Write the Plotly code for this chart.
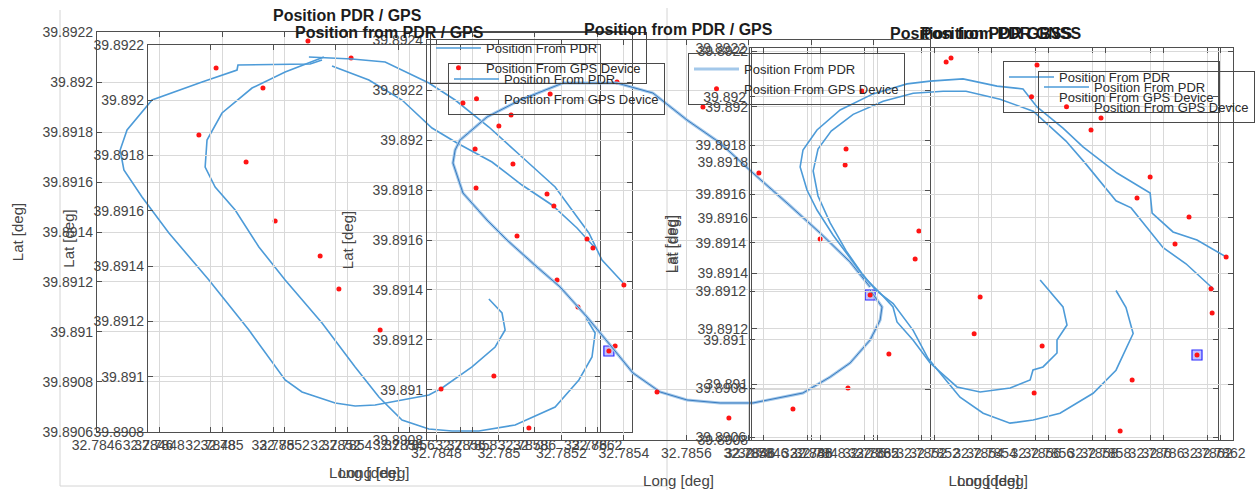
import plotly.graph_objects as go

W, H = 1255, 490
FONT = "Liberation Sans, Arial, Helvetica, sans-serif"
BLUE = "#4d9bd8"
BLUE_CORE = "#3a7cc0"
BLUE_HALO = "#a3c8ea"
RED = "#ff1414"
GRID = "#d9d9d9"
FRAME = "#4f4f4f"
TICK = "#454545"

# ---------------------------------------------------------------- tick labels
LAT_TICKS = ["39.8906", "39.8908", "39.891", "39.8912", "39.8914",
             "39.8916", "39.8918", "39.892", "39.8922", "39.8924"]
LON_TICKS = ["32.7846", "32.7848", "32.785", "32.7852", "32.7854",
             "32.7856", "32.7858", "32.786", "32.7862", "32.7864"]

# ---------------------------------------------------------------- PDR tracks
# walk 1, outer loop
pdr1_lon = [32.785320, 32.785282, 32.785051, 32.785048, 32.784936, 32.784776, 32.784696,
            32.784674, 32.784686, 32.784744, 32.784830, 32.784958, 32.785086, 32.785202,
            32.785256, 32.785362, 32.785426, 32.785490, 32.785662, 32.785704, 32.785800,
            32.785874, 32.785906, 32.785896, 32.785854]
pdr1_lat = [39.892088, 39.892072, 39.892068, 39.892048, 39.892000, 39.891928, 39.891808,
            39.891728, 39.891648, 39.891540, 39.891396, 39.891208, 39.891008, 39.890808,
            39.890760, 39.890716, 39.890704, 39.890708, 39.890748, 39.890776, 39.890860,
            39.890940, 39.891008, 39.891076, 39.891132]

# walk 1, inner loop
pdr2_lon = [32.785326, 32.785202, 32.785096, 32.785000, 32.784952, 32.784946, 32.784978,
            32.785042, 32.785118, 32.785202, 32.785320, 32.785426, 32.785502, 32.785576,
            32.785662, 32.785736, 32.785822, 32.785938, 32.786066, 32.786142, 32.786184,
            32.786194, 32.786165]
pdr2_lat = [39.892100, 39.892040, 39.891976, 39.891876, 39.891768, 39.891660, 39.891580,
            39.891488, 39.891340, 39.891208, 39.891036, 39.890860, 39.890740, 39.890648,
            39.890612, 39.890604, 39.890604, 39.890628, 39.890700, 39.890808, 39.890900,
            39.890996, 39.891056]

# walk 1, return legs
ret_a_lon = [32.785278, 32.785416, 32.785522, 32.785662, 32.785746, 32.785854, 32.785960,
             32.786066, 32.786174, 32.786216, 32.786290]
ret_a_lat = [39.892100, 39.892092, 39.892080, 39.891996, 39.891928, 39.891820, 39.891700,
             39.891580, 39.891396, 39.891288, 39.891188]
ret_b_lon = [32.785352, 32.785470, 32.785576, 32.785672, 32.785752, 32.785864, 32.785960,
             32.786056, 32.786136, 32.786194]
ret_b_lat = [39.892064, 39.892008, 39.891928, 39.891816, 39.891756, 39.891680, 39.891588,
             39.891508, 39.891416, 39.891336]

# walk 2, closed loop
pdr3_lon = [32.786188, 32.786226, 32.786220, 32.786188, 32.786124, 32.786060, 32.785973,
            32.785813, 32.785708, 32.785602, 32.785516, 32.785429, 32.785356, 32.785282,
            32.785196, 32.785122, 32.785026, 32.784962, 32.784885, 32.784853, 32.784860,
            32.784876, 32.784962, 32.785068, 32.785205, 32.785378, 32.785493, 32.785602,
            32.785708, 32.785813, 32.785922, 32.786028, 32.786124, 32.786188]
pdr3_lat = [39.891400, 39.891332, 39.891280, 39.891200, 39.891108, 39.891052, 39.890988,
            39.890948, 39.890948, 39.890960, 39.890992, 39.891068, 39.891180, 39.891292,
            39.891412, 39.891492, 39.891600, 39.891680, 39.891788, 39.891908, 39.891960,
            39.892000, 39.892092, 39.892160, 39.892228, 39.892228, 39.892188, 39.892080,
            39.891988, 39.891868, 39.891748, 39.891628, 39.891512, 39.891412]

# walk 3, first run
pdr4_lon = [32.785570, 32.785650, 32.785664, 32.785629, 32.785629, 32.785580, 32.785545,
            32.785535, 32.785465, 32.785360, 32.785279, 32.785185, 32.785125, 32.785069,
            32.785055, 32.785010, 32.784957, 32.784905, 32.784845, 32.784789, 32.784754,
            32.784730, 32.784740, 32.784789, 32.784870, 32.784985, 32.785104, 32.785185,
            32.785300, 32.785419, 32.785510, 32.785559, 32.785650, 32.785720, 32.785839,
            32.785955, 32.785962, 32.786035, 32.786119, 32.786221]
pdr4_lat = [39.891376, 39.891279, 39.891214, 39.891160, 39.891113, 39.891063, 39.891052,
            39.891016, 39.890987, 39.890973, 39.890991, 39.891077, 39.891160, 39.891225,
            39.891279, 39.891329, 39.891383, 39.891455, 39.891538, 39.891628, 39.891700,
            39.891783, 39.891844, 39.891916, 39.891988, 39.892046, 39.892082, 39.892092,
            39.892100, 39.892074, 39.892064, 39.891999, 39.891923, 39.891855, 39.891761,
            39.891689, 39.891617, 39.891549, 39.891520, 39.891459]

# walk 3, second run
pdr5_lon = [32.785881, 32.785916, 32.785941, 32.785881, 32.785801, 32.785685, 32.785591,
            32.785510, 32.785416, 32.785335, 32.785286, 32.785223, 32.785171, 32.785101,
            32.785041, 32.784989, 32.784936, 32.784880, 32.784838, 32.784821, 32.784838,
            32.784884, 32.784961, 32.785066, 32.785171, 32.785276, 32.785356, 32.785475,
            32.785591, 32.785706, 32.785776, 32.785825, 32.785881, 32.785934, 32.786046,
            32.786126, 32.786224]
pdr5_lat = [39.891203, 39.891133, 39.891026, 39.890875, 39.890780, 39.890698, 39.890670,
            39.890657, 39.890698, 39.890764, 39.890834, 39.890924, 39.891039, 39.891149,
            39.891203, 39.891277, 39.891367, 39.891482, 39.891592, 39.891695, 39.891785,
            39.891859, 39.891928, 39.891982, 39.892015, 39.892023, 39.892023, 39.891990,
            39.891941, 39.891818, 39.891723, 39.891654, 39.891572, 39.891543, 39.891379,
            39.891313, 39.891207]

# ---------------------------------------------------------------- GPS fixes
gps1_lon = [32.784981, 32.785131, 32.784926, 32.785077, 32.785170, 32.785275, 32.785413,
            32.785314, 32.785374, 32.785506]
gps1_lat = [39.892056, 39.891976, 39.891788, 39.891680, 39.891444, 39.892164, 39.892096,
            39.891304, 39.891172, 39.891008]

gps2_lon = [32.784885, 32.785039, 32.785000, 32.784924, 32.785045, 32.784927, 32.785154,
            32.785176, 32.785058, 32.785282, 32.785301, 32.785378, 32.785164, 32.785400,
            32.785186, 32.785253, 32.785372, 32.785352, 32.784984, 32.784815, 32.785096]
gps2_lat = [39.892148, 39.892100, 39.892056, 39.891964, 39.891904, 39.891808, 39.891784,
            39.891736, 39.891616, 39.891604, 39.891568, 39.892232, 39.892184, 39.891420,
            39.891440, 39.891332, 39.891176, 39.891156, 39.891056, 39.891004, 39.890848]

gps3_lon = [32.785506, 32.785736, 32.785941, 32.786162, 32.785653, 32.785832, 32.786111,
            32.786108, 32.786028, 32.786344, 32.786332, 32.786188, 32.786248, 32.786117]
gps3_lat = [39.890992, 39.890888, 39.890924, 39.892196, 39.892132, 39.891868, 39.891964,
            39.891900, 39.891604, 39.891636, 39.891524, 39.891380, 39.891144, 39.891008]

gps4_lon = [32.785241, 32.785258, 32.785559, 32.785748, 32.785783, 32.785955, 32.785909,
            32.786091, 32.786042, 32.786221]
gps4_lat = [39.892161, 39.892175, 39.892150, 39.891916, 39.891959, 39.891747, 39.891671,
            39.891603, 39.891506, 39.891459]

gps5_lon = [32.786168, 32.786172, 32.786119, 32.785892, 32.785850, 32.785360, 32.785339,
            32.785577, 32.785549]
gps5_lat = [39.891344, 39.891257, 39.891106, 39.891016, 39.890832, 39.891315, 39.891182,
            39.891138, 39.890969]

# start points of the walks
start3_lon = [32.785352, 32.786188]
start3_lat = [39.891156, 39.891380]
start5_lon = [32.786119]
start5_lat = [39.891106]

# ---------------------------------------------------------------- panels
# suffix, pixel box (left, top, right, bottom), lon range, lat range
PANELS = [
    ("",  (97, 32, 632, 432),   [32.7845999, 32.786312], [39.8905999, 39.8922001]),
    ("2", (148, 45, 600, 432),  [32.7845999, 32.7860464], [39.8907999, 39.8922001]),
    ("3", (427, 40, 930, 440),  [32.78477, 32.7863796], [39.8907999, 39.8924001]),
    ("4", (750, 48, 1218, 440), [32.7845999, 32.786238], [39.8905877, 39.892201]),
    ("5", (752, 48, 1233, 440), [32.7845615, 32.786245], [39.8907999, 39.8922112]),
]


def axis_common(ticks):
    return dict(
        tickvals=[float(t) for t in ticks], ticktext=ticks,
        showgrid=True, gridcolor=GRID, gridwidth=1, zeroline=False,
        showline=True, mirror="ticks", linecolor=FRAME, linewidth=1.3,
        ticks="inside", ticklen=5, tickcolor=FRAME, tickwidth=1,
        tickfont=dict(family=FONT, size=14, color=TICK),
        automargin=False, fixedrange=True,
    )


fig = go.Figure()
axes = {}
for sfx, (l, t, r, b), xr, yr in PANELS:
    axes["xaxis" + sfx] = dict(
        domain=[l / W, r / W], anchor="y" + sfx, range=xr,
        title=dict(text="Long [deg]", font=dict(family=FONT, size=15, color=TICK)),
        **axis_common(LON_TICKS))
    axes["yaxis" + sfx] = dict(
        domain=[1 - b / H, 1 - t / H], anchor="x" + sfx, range=yr,
        title=dict(text="Lat [deg]", font=dict(family=FONT, size=15, color=TICK)),
        **axis_common(LAT_TICKS))
fig.update_layout(**axes)


def ax(sfx):
    return dict(xaxis="x" + sfx, yaxis="y" + sfx)


def pdr(lon, lat, sfx, legend=None, color=BLUE, width=1.6):
    fig.add_trace(go.Scatter(
        x=lon, y=lat, mode="lines", line=dict(color=color, width=width),
        name="Position From PDR", legend=legend or "legend",
        showlegend=legend is not None, hoverinfo="skip", **ax(sfx)))


def gps(lon, lat, sfx, legend):
    fig.add_trace(go.Scatter(
        x=lon, y=lat, mode="markers",
        marker=dict(color=RED, size=5, symbol="circle"),
        name="Position From GPS Device", legend=legend,
        hoverinfo="skip", **ax(sfx)))


def start(lon, lat, sfx):
    fig.add_trace(go.Scatter(
        x=lon, y=lat, mode="markers", showlegend=False, hoverinfo="skip",
        marker=dict(symbol="square", size=10, color="rgba(120,120,255,0.45)",
                    line=dict(color="#2a2aff", width=1.2)), **ax(sfx)))


# second axes of the first walk carry no series of their own
fig.add_trace(go.Scatter(x=[], y=[], mode="lines", showlegend=False,
                         hoverinfo="skip", **ax("2")))

# walk 1
pdr(pdr1_lon, pdr1_lat, "", "legend")
gps(gps1_lon, gps1_lat, "", "legend")
pdr(pdr2_lon, pdr2_lat, "", "legend2")
pdr(ret_a_lon, ret_a_lat, "")
pdr(ret_b_lon, ret_b_lat, "")

# walk 2
start(start3_lon, start3_lat, "3")
gps(gps2_lon, gps2_lat, "3", "legend2")
pdr(pdr3_lon, pdr3_lat, "3", "legend3", color=BLUE_HALO, width=3)
pdr(pdr3_lon, pdr3_lat, "3", color=BLUE_CORE, width=1)
gps(gps3_lon, gps3_lat, "3", "legend3")

# walk 3
start(start5_lon, start5_lat, "5")
pdr(pdr4_lon, pdr4_lat, "5", "legend4")
gps(gps4_lon, gps4_lat, "5", "legend4")
pdr(pdr5_lon, pdr5_lat, "4", "legend5")
gps(gps5_lon, gps5_lat, "5", "legend5")


def legend_box(px, py):
    return dict(
        x=px / W, y=1 - py / H, xanchor="left", yanchor="top",
        bgcolor="rgba(255,255,255,0)", bordercolor="#4a4a4a", borderwidth=1,
        font=dict(family=FONT, size=13, color="#2b2b2b"),
        itemwidth=45, tracegroupgap=0)


fig.update_layout(
    legend=legend_box(430, 32),
    legend2=legend_box(448, 63),
    legend3=legend_box(688, 53),
    legend4=legend_box(1003, 61),
    legend5=legend_box(1038, 71),
)

# panel titles
TITLES = [
    ("Position PDR / GPS", 347, 16),
    ("Position from PDR / GPS", 389, 32),
    ("Position from PDR / GPS", 678, 29),
    ("Position from PDR GNSS", 985, 34),
    ("Position PDR GBSS", 996, 34),
]
for text, px, py in TITLES:
    fig.add_annotation(
        text="<b>%s</b>" % text, x=px / W, y=1 - py / H, xref="paper", yref="paper",
        xanchor="center", yanchor="middle", showarrow=False,
        font=dict(family=FONT, size=16, color="#1c1c1c"))

# faint window edges behind the axes
for x0, y0, x1, y1 in [(60, 10, 60, 486), (667, 8, 667, 490), (60, 486, 667, 486)]:
    fig.add_shape(type="line", xref="paper", yref="paper",
                  x0=x0 / W, x1=x1 / W, y0=1 - y0 / H, y1=1 - y1 / H,
                  line=dict(color="#d4d4d4", width=1), layer="below")

fig.update_layout(
    width=W, height=H, autosize=False,
    margin=dict(l=0, r=0, t=0, b=0, pad=0, autoexpand=False),
    paper_bgcolor="white", plot_bgcolor="rgba(0,0,0,0)",
    showlegend=True,
)

fig.write_html("out.html", config={"displayModeBar": False})
